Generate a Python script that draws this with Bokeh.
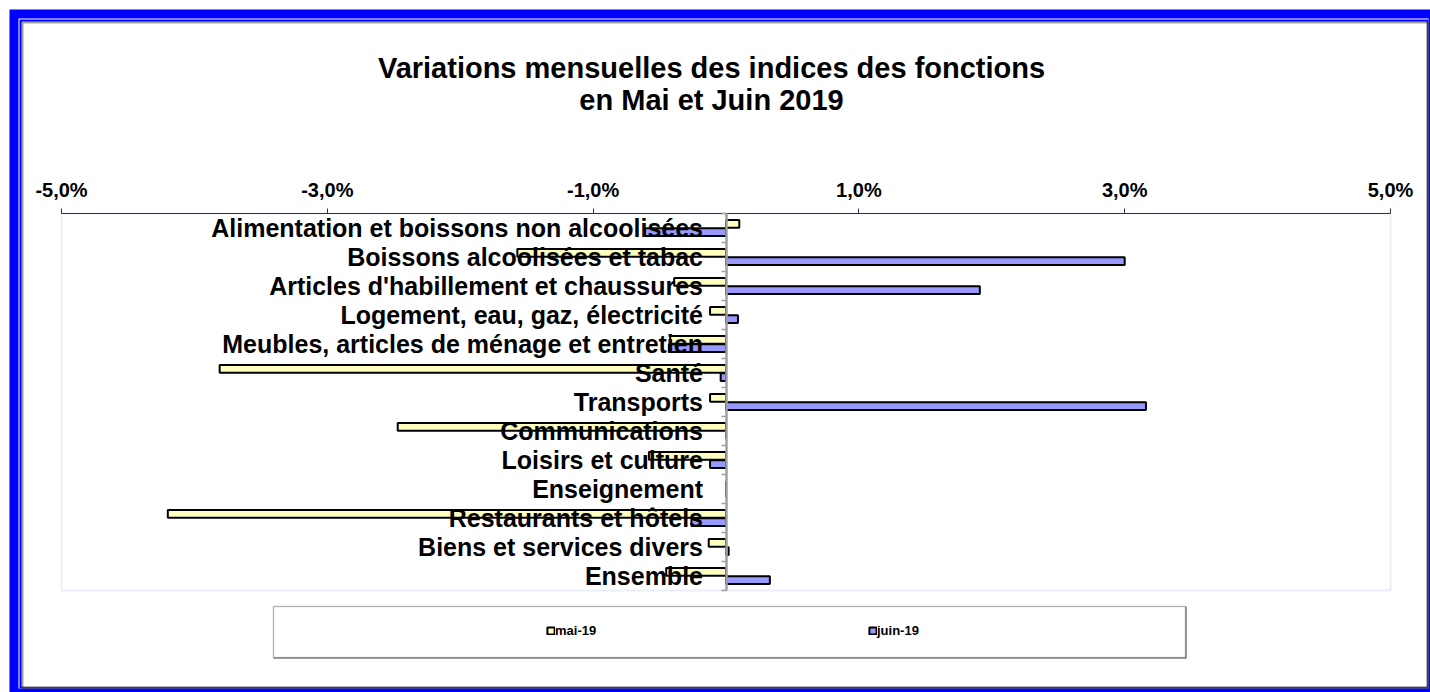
from bokeh.plotting import figure
from bokeh.models import (Range1d, LinearAxis, FixedTicker, BoxAnnotation, Label,
                          Legend, LegendItem, ColumnDataSource)
from bokeh.transform import dodge
from bokeh.embed import file_html
from bokeh.resources import INLINE

# ---- data ----
categories = [
    "Alimentation et boissons non alcoolisées",
    "Boissons alcoolisées et tabac",
    "Articles d'habillement et chaussures",
    "Logement, eau, gaz, électricité",
    "Meubles, articles de ménage et entretien",
    "Santé",
    "Transports",
    "Communications",
    "Loisirs et culture",
    "Enseignement",
    "Restaurants et hôtels",
    "Biens et services divers",
    "Ensemble",
]
mai_19 = [0.10, -1.57, -0.39, -0.12, -0.42, -3.81, -0.12, -2.47, -0.58, 0.0, -4.20, -0.13, -0.45]
juin_19 = [-0.61, 3.00, 1.91, 0.09, -0.43, -0.04, 3.16, 0.0, -0.12, 0.0, -0.26, 0.02, 0.33]
series_names = ["mai-19", "juin-19"]
x_ticks = [-5, -3, -1, 1, 3, 5]
x_tick_labels = ["-5,0%", "-3,0%", "-1,0%", "1,0%", "3,0%", "5,0%"]
title_lines = ["Variations mensuelles des indices des fonctions", "en Mai et Juin 2019"]

FONT = "Liberation Sans"
W, H = 1430, 692
PL, PR, PT, PB = 61, 1390, 213, 590   # plot area edges in canvas px
XMIN, XMAX = -5.0, 5.0

n = len(categories)
pos = [i + 0.5 for i in range(n)]
bounds = [float(i) for i in range(n + 1)]
src = ColumnDataSource(dict(cat=categories, pos=pos, mai=mai_19, juin=juin_19))

# the frame covers the whole canvas; ranges are extended so the plot area lands at PL..PR, PT..PB
kx = (XMAX - XMIN) / (PR - PL)
ky = n / (PB - PT)
x_range = Range1d(XMIN - PL * kx, XMAX + (W - PR) * kx)
y_range = Range1d(n + (H - PB) * ky, -PT * ky)

p = figure(width=W, height=H, x_range=x_range, y_range=y_range,
           output_backend="svg", toolbar_location=None, x_axis_location="above",
           y_axis_location=None, min_border=0, title=None)
p.outline_line_color = None
p.grid.visible = False
p.background_fill_color = "white"
p.border_fill_color = "white"

# canvas-pixel coordinate system for decorations
p.extra_x_ranges = {"px": Range1d(0, W)}
p.extra_y_ranges = {"px": Range1d(H, 0)}

def pxbox(l, r, t, b, color, level="underlay", line_color=None, line_width=1):
    box = BoxAnnotation(left=l, right=r, top=t, bottom=b, x_range_name="px", y_range_name="px",
                        fill_color=color, fill_alpha=1.0 if color else 0, line_color=line_color,
                        line_width=line_width, level=level)
    p.add_layout(box)
    return box

# blue double frame
pxbox(9, W, 9, H, "#0000FF")
pxbox(18, W - 2, 18, H - 4, "white")
pxbox(19, W - 2, 19, H - 4, "#0000FF")
pxbox(21, W - 2, 21, H - 4, "#404040")
pxbox(21, W - 4, 21, H - 6, "#A0A0A0")
pxbox(23, W - 4, 23, H - 6, "white")

# plot area border
p.add_layout(BoxAnnotation(left=XMIN, right=XMAX, top=0, bottom=n, fill_alpha=0,
                           line_color="#B8C8EC", line_width=2, level="underlay"))

# legend box (with a darker right/bottom edge)
pxbox(273, 1186, 606, 658, "#404040")
pxbox(273, 1185, 606, 657, "white", line_color="#6A6A6A", line_width=1.5)

# bars
r_mai = p.hbar(y=dodge("pos", -0.14, range=p.y_range), left=0, right="mai", height=0.27,
               source=src, fill_color="#FFFFC0", line_color="black", line_width=2)
r_juin = p.hbar(y=dodge("pos", 0.14, range=p.y_range), left=0, right="juin", height=0.27,
                source=src, fill_color="#9999FF", line_color="black", line_width=2)

# value axis (top of plot area)
xa = p.xaxis[0]
xa.fixed_location = 0
xa.bounds = (XMIN, XMAX)
xa.ticker = FixedTicker(ticks=x_ticks, minor_ticks=[])
xa.major_label_overrides = {t: l for t, l in zip(x_ticks, x_tick_labels)}
xa.axis_line_color = "#333333"
xa.axis_line_width = 1
xa.major_tick_out = 5
xa.major_tick_in = 0
xa.major_tick_line_color = "#333333"
xa.minor_tick_line_color = None
xa.major_label_text_font = FONT
xa.major_label_text_font_style = "bold"
xa.major_label_text_font_size = "20px"
xa.major_label_text_color = "black"
xa.major_label_standoff = 8

# category axis crossing at zero
ya = LinearAxis(fixed_location=0, bounds=(0, n),
                ticker=FixedTicker(ticks=pos, minor_ticks=bounds),
                major_label_overrides={v: c for v, c in zip(pos, categories)})
ya.axis_line_color = "#A0A0A0"
ya.axis_line_width = 2.5
ya.major_tick_in = 0
ya.major_tick_out = 0
ya.major_tick_line_color = None
ya.minor_tick_in = 0
ya.minor_tick_out = 5
ya.minor_tick_line_color = "#A0A0A0"
ya.minor_tick_line_width = 1.5
ya.major_label_text_font = FONT
ya.major_label_text_font_style = "bold"
ya.major_label_text_font_size = "25px"
ya.major_label_text_color = "black"
ya.major_label_standoff = 18
p.add_layout(ya, "left")

# title
for i, line in enumerate(title_lines):
    p.add_layout(Label(x=711, y=67 + 32 * i, x_range_name="px", y_range_name="px", text=line,
                       text_align="center", text_baseline="middle", text_font=FONT,
                       text_font_style="bold", text_font_size="29px", text_color="black"))

legend = Legend(items=[LegendItem(label=series_names[0], renderers=[r_mai]),
                       LegendItem(label=series_names[1], renderers=[r_juin])],
                orientation="horizontal", location=(546, 54), padding=0, margin=0,
                spacing=0, glyph_width=9, glyph_height=9, label_standoff=0,
                label_width=313, label_height=13,
                label_text_font=FONT, label_text_font_style="bold",
                label_text_font_size="13px", label_text_color="black",
                border_line_color=None, background_fill_alpha=0)
p.add_layout(legend)

open("out.html", "w").write(file_html(p, INLINE))
